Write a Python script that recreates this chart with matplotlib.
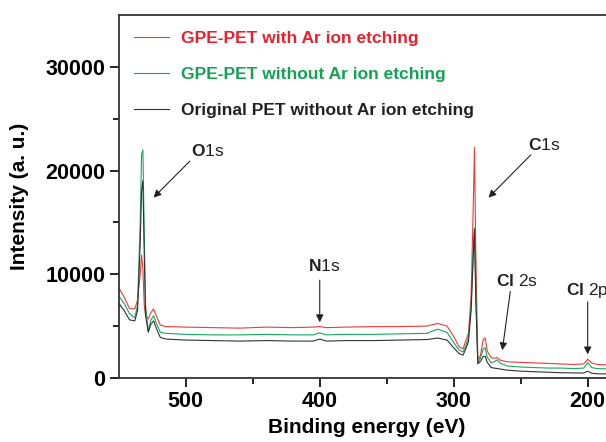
import matplotlib
matplotlib.use('Agg')
from matplotlib import pyplot as plt

plt.rcParams['font.family'] = ['Liberation Sans', 'DejaVu Sans']
plt.rcParams['mathtext.fontset'] = 'custom'
plt.rcParams['mathtext.rm'] = 'Liberation Sans'
plt.rcParams['mathtext.bf'] = 'Liberation Sans:bold'

# binding energy (eV), descending
energy = [550, 546, 542, 538, 536, 534, 533, 532, 531, 530, 528, 526, 524, 522, 519, 515,
          500, 480, 460, 440, 420, 405, 400, 395, 380, 360, 340, 320, 312, 305, 300, 296,
          293, 291, 289, 287, 285.5, 284.5, 283.5, 282, 280, 278, 276.5, 275, 272, 270,
          267.5, 265, 260, 250, 240, 230, 220, 210, 203, 200, 197, 193, 186]

red = [8700, 7800, 6700, 6650, 7500, 10000, 11850, 10500, 7000, 6000, 5700, 6300, 6650, 6000, 5100, 4950,
       4900, 4850, 4800, 4900, 4850, 4900, 4950, 4850, 4900, 4950, 4950, 5000, 5250, 5000, 4000, 3000,
       2800, 3600, 4300, 8000, 16000, 22250, 12000, 1700, 2200, 3700, 3850, 2600, 1950, 1900,
       1950, 1700, 1550, 1500, 1450, 1400, 1350, 1300, 1350, 1800, 1450, 1300, 1250]

green = [7900, 7200, 6200, 5800, 7000, 15000, 21500, 22000, 14000, 7000, 4550, 5600, 6000, 5300, 4400, 4300,
         4200, 4150, 4150, 4200, 4150, 4150, 4350, 4150, 4200, 4200, 4250, 4300, 4700, 4400, 3400, 2700,
         2500, 3100, 3900, 7000, 12000, 14450, 8000, 1450, 1900, 2800, 2900, 2000, 1450, 1550,
         1750, 1400, 1150, 1050, 1000, 950, 950, 900, 950, 1450, 1000, 900, 870]

black = [7200, 6500, 5600, 5500, 6500, 13000, 18000, 19000, 12000, 6000, 4400, 5200, 5500, 4800, 3900, 3750,
         3650, 3600, 3550, 3600, 3550, 3550, 3750, 3550, 3600, 3600, 3650, 3700, 3850, 3650, 2900, 2350,
         2200, 2800, 3500, 6500, 11500, 14300, 7500, 1350, 1600, 2050, 2100, 1500, 1000, 950,
         900, 850, 750, 650, 600, 550, 500, 480, 470, 650, 450, 400, 380]

series_names = ['GPE-PET with Ar ion etching',
                'GPE-PET without Ar ion etching',
                'Original PET without Ar ion etching']
series_colors = ['#ee3b36', '#17a85e', '#333333']
text_colors = ['#e8202a', '#12a352', '#222222']

# peak labels: (label, text pos, arrow tail, arrow head)
peaks = [
    (r'$\mathbf{O}$1s', (496, 21900), (495.5, 21100), (525.5, 17200)),
    (r'$\mathbf{C}$1s', (244.5, 22500), (241, 21700), (275.5, 17200)),
    (r'$\mathbf{N}$1s', (409, 10800), (400, 9700), (400, 5100)),
    (r'$\mathbf{Cl}$ 2s', (268.5, 9350), (257.5, 8600), (264, 2400)),
    (r'$\mathbf{Cl}$ 2p', (216.5, 8400), (200, 7600), (200, 2000)),
]


def plot():
    fig = plt.figure(figsize=(6.06, 4.42), dpi=100)
    ax = fig.add_axes([0.196, 0.145, 0.818, 0.821])

    for ys, c, name in zip([red, green, black], series_colors, series_names):
        ax.plot(energy, ys, c=c, lw=0.8, label=name)

    ax.set_xlim(550, 180)
    ax.set_ylim(0, 35000)
    ax.set_xticks([500, 400, 300, 200])
    ax.set_xticks([450, 350, 250], minor=True)
    ax.set_yticks([0, 10000, 20000, 30000])
    ax.set_yticks([5000, 15000, 25000], minor=True)
    ax.tick_params(which='major', direction='out', length=6.5, width=1.2, labelsize=15.5, pad=3)
    ax.tick_params(which='minor', direction='out', length=4, width=1.2)
    for lbl in ax.get_xticklabels() + ax.get_yticklabels():
        lbl.set_fontweight('bold')
    for sp in ax.spines.values():
        sp.set_linewidth(1.3)
        sp.set_color('#333333')

    ax.set_xlabel('Binding energy (eV)', fontsize=15, fontweight='bold', labelpad=4)
    ax.set_ylabel('Intensity (a. u.)', fontsize=15, fontweight='bold', labelpad=12)

    leg = ax.legend(loc='upper left', frameon=False, fontsize=12.5, handlelength=2.0,
                    handletextpad=0.7, labelspacing=1.2, borderaxespad=0.5,
                    bbox_to_anchor=(0.0, 1.0))
    for t, c in zip(leg.get_texts(), text_colors):
        t.set_color(c)
        t.set_fontweight('bold')

    for label, tpos, tail, head in peaks:
        ax.text(tpos[0], tpos[1], label, fontsize=12.5, ha='left', va='center', color='#222222')
        ax.annotate('', xy=head, xytext=tail,
                    arrowprops=dict(arrowstyle='-|>', color='#222222', lw=0.8, mutation_scale=11))

    fig.savefig('out.png', dpi=100)
    plt.close(fig)


if __name__ == '__main__':
    plot()
